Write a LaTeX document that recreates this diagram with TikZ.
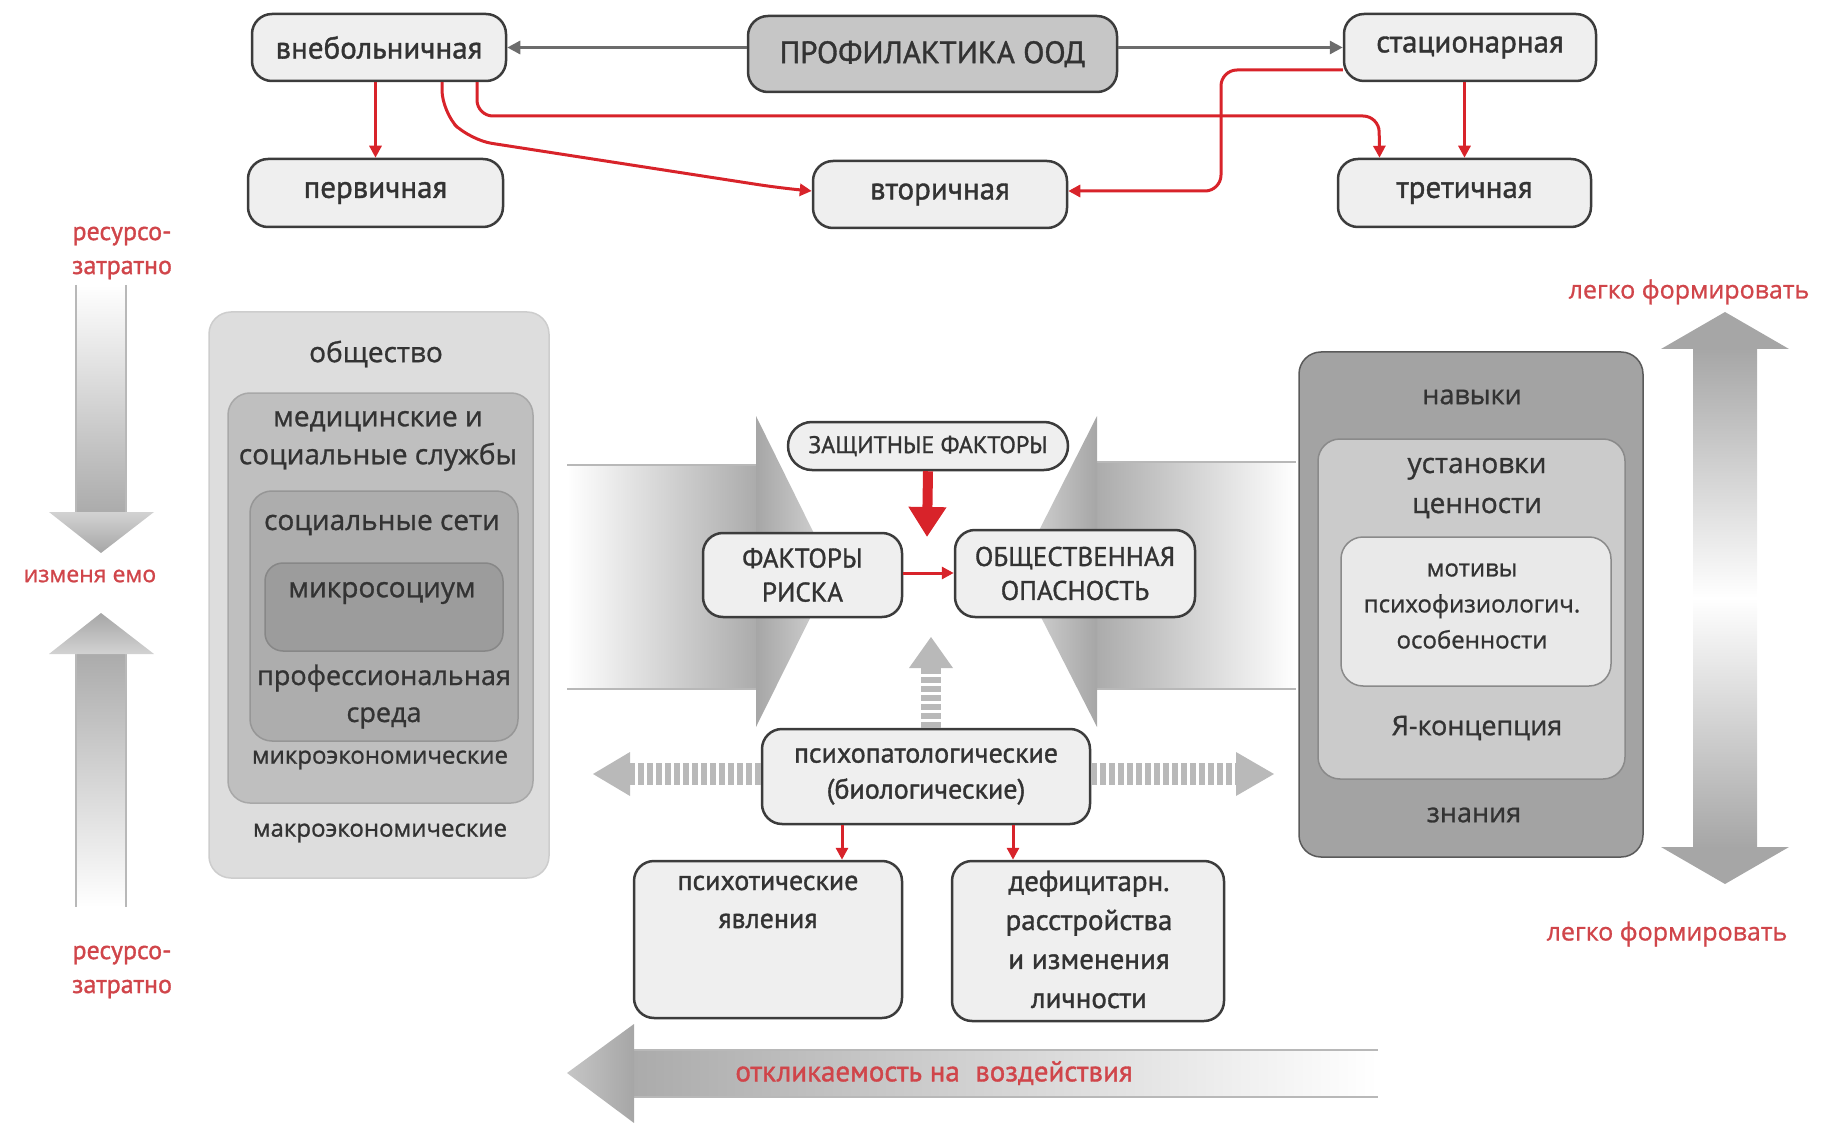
\documentclass[tikz,border=0pt]{standalone}
\usepackage{fontspec}
\setmainfont[FakeBold=1.2]{PT Sans}
\newfontfamily\wide[FakeBold=1]{Open Sans}
\newfontfamily\plainpt{PT Sans}
\usetikzlibrary{arrows.meta,calc}
\definecolor{nfill}{HTML}{EFEFEF}
\definecolor{nborder}{HTML}{3C3C3C}
\definecolor{pfill}{HTML}{C6C6C6}
\definecolor{redl}{HTML}{D8232A}
\definecolor{redt}{HTML}{D0454A}
\definecolor{tdark}{HTML}{333333}
\definecolor{gA}{HTML}{DDDDDD}
\definecolor{gAb}{HTML}{CDCDCD}
\definecolor{gB}{HTML}{BFBFBF}
\definecolor{gBb}{HTML}{A8A8A8}
\definecolor{gC}{HTML}{ADADAD}
\definecolor{gCb}{HTML}{969696}
\definecolor{gD}{HTML}{9C9C9C}
\definecolor{gDb}{HTML}{878787}
\definecolor{rO}{HTML}{A3A3A3}
\definecolor{rOb}{HTML}{5A5A5A}
\definecolor{rI}{HTML}{CBCBCB}
\definecolor{rIb}{HTML}{8A8A8A}
\definecolor{rII}{HTML}{E9E9E9}
\definecolor{shg}{HTML}{ABABAB}
\definecolor{hdg}{HTML}{A6A6A6}
\definecolor{edg}{HTML}{B8B8B8}
\begin{document}
\begin{tikzpicture}[x=1pt,y=-1pt,
  tn/.style={draw=nborder, line width=2.5pt, fill=nfill, rounded corners=20pt,
    inner sep=0pt, text=tdark, font=\fontsize{31}{36}\selectfont},
  cn/.style={draw=nborder, line width=2.5pt, fill=nfill, rounded corners=20pt,
    inner sep=0pt, text=tdark, align=center},
  gbox/.style={line width=1.5pt, rounded corners=22pt, inner sep=0pt},
  wt/.style={font=\wide\fontsize{28}{38}\selectfont, text=tdark, align=center, inner sep=0pt},
  rt/.style={text=redt, align=center, inner sep=0pt},
  redarr/.style={draw=redl, line width=3pt, -{Triangle[length=12pt,width=12pt]}},
  grayarr/.style={draw=gray!85!black, line width=3pt, -{Triangle[length=13pt,width=13pt]}},
  stripe/.style={draw=gray!55, dash pattern=on 6pt off 3pt}
]
\useasboundingbox (0,0) rectangle (1824,1123);

% ---------- big background arrows ----------
% left arrow (points right)
\shade[left color=white, right color=shg] (567,465) rectangle (757,689);
\draw[edg, line width=1.5pt] (567,465) -- (757,465) (567,689) -- (757,689);
\shade[left color=hdg, right color=gray!30] (756,416) -- (833,572) -- (756,727) -- cycle;
% right arrow (points left)
\shade[right color=white, left color=shg] (1096,462) rectangle (1296,689);
\draw[edg, line width=1.5pt] (1096,462) -- (1296,462) (1096,689) -- (1296,689);
\shade[right color=hdg, left color=gray!30] (1097,416) -- (1018,572) -- (1097,727) -- cycle;

% left vertical arrows
\shade[top color=white, bottom color=shg] (76,285) rectangle (126,513);
\draw[edg, line width=1.5pt] (76,285) -- (76,513) (126,285) -- (126,513);
\shade[top color=gray!35, bottom color=hdg] (49,512) -- (154,512) -- (101,553) -- cycle;
\shade[bottom color=white, top color=shg] (76,653) rectangle (126,907);
\draw[edg, line width=1.5pt] (76,653) -- (76,907) (126,653) -- (126,907);
\shade[bottom color=gray!35, top color=hdg] (49,654) -- (154,654) -- (101,613) -- cycle;

% right double arrow
\shade[top color=hdg, bottom color=hdg, middle color=white] (1693,348) rectangle (1757,848);
\fill[hdg] (1661,349) -- (1725,312) -- (1789,349) -- cycle;
\fill[hdg] (1661,847) -- (1725,884) -- (1789,847) -- cycle;

% bottom arrow (points left)
\shade[left color=shg, right color=white] (633,1050) rectangle (1378,1097);
\draw[edg, line width=1.5pt] (633,1050) -- (1378,1050) (633,1097) -- (1378,1097);
\shade[left color=gray!45, right color=hdg] (634,1024) -- (567,1073) -- (634,1123) -- cycle;

% ---------- top row ----------
\node[tn, minimum width=254, minimum height=67] (vneb) at (379,47.5) {внебольничная};
\node[tn, fill=pfill, minimum width=369, minimum height=76] (prof) at (932.5,54) {ПРОФИЛАКТИКА ООД};
\node[tn, minimum width=252, minimum height=67] (stac) at (1470,47.5) {стационарная};
\node[tn, minimum width=255, minimum height=68] (perv) at (375.5,193) {первичная};
\node[tn, minimum width=254, minimum height=67] (vtor) at (940,194.5) {вторичная};
\node[tn, minimum width=253, minimum height=68] (tret) at (1464.5,193) {третичная};

\draw[grayarr] (prof.west |- vneb) -- (vneb.east);
\draw[grayarr] (prof.east |- stac) -- (stac.west);
\draw[redarr] (vneb.south -| perv.north) -- (perv.north);
\draw[redarr, rounded corners=22pt] ([xshift=63pt]vneb.south) -- (442,112) -- (470,140) -- (780,188) -- (vtor.west |- 0,191);
\draw[redarr, rounded corners=16pt] ([xshift=98pt]vneb.south) |- (1379,116) -- ([xshift=-85pt]tret.north);
\draw[redarr, rounded corners=16pt] (stac.west |- 0,70) -| (1221,191) -- (vtor.east |- 0,191);
\draw[redarr] (stac.south -| tret.north) -- (tret.north);

% ---------- left nested boxes ----------
\node[gbox, fill=gA, draw=gAb, minimum width=340, minimum height=566] (soc) at (379,595) {};
\node[gbox, fill=gB, draw=gBb, minimum width=305, minimum height=410] (med) at (380.5,598) {};
\node[gbox, fill=gC, draw=gCb, minimum width=268, minimum height=250] (net) at (384,616) {};
\node[gbox, fill=gD, draw=gDb, minimum width=238, minimum height=88, rounded corners=18pt] (mic) at (384,607) {};
\node[wt] (socT) at (376,354) {общество};
\node[wt] (medT) at (378,441) {медицинские и\\социальные службы};
\node[wt] (netT) at (382,525) {социальные сети};
\node[wt] (micT) at (382,593) {микросоциум};
\node[wt, font=\wide\fontsize{27}{37}\selectfont] (profT) at (384,696.5) {профессиональная\\среда};
\node[wt, font=\wide\fontsize{24}{30}\selectfont] (mieT) at (380,760) {микроэкономические};
\node[wt, font=\wide\fontsize{24}{30}\selectfont] (maeT) at (380,833) {макроэкономические};

% ---------- right nested boxes ----------
\node[gbox, fill=rO, draw=rOb, minimum width=344, minimum height=505] (ro) at (1471,604.5) {};
\node[gbox, fill=rI, draw=rIb, minimum width=307, minimum height=340] (ri) at (1471.5,609) {};
\node[gbox, fill=rII, draw=rIb, minimum width=270, minimum height=149] (rii) at (1476,611.5) {};
\node[wt, font=\wide\fontsize{27}{38}\selectfont] (navT) at (1472,397) {навыки};
\node[wt, font=\wide\fontsize{28}{40}\selectfont] (ustT) at (1477,488) {установки\\ценности};
\node[wt, font=\wide\fontsize{24}{36}\selectfont] (motT) at (1472,606) {мотивы\\психофизиологич.\\особенности};
\node[wt, font=\wide\fontsize{27}{38}\selectfont] (yaT) at (1477,728) {Я-концепция};
\node[wt, font=\wide\fontsize{27}{38}\selectfont] (znT) at (1474,815) {знания};

% ---------- center ----------
\node[cn, minimum width=280, minimum height=48, rounded corners=24pt, font=\fontsize{24}{28}\selectfont] (zasch) at (928,446) {ЗАЩИТНЫЕ ФАКТОРЫ};
\node[cn, minimum width=199, minimum height=84, font=\fontsize{27}{34}\selectfont] (fakt) at (802.5,575) {ФАКТОРЫ\\РИСКА};
\node[cn, minimum width=240, minimum height=87, font=\fontsize{27}{34}\selectfont] (obsh) at (1075,573.5) {ОБЩЕСТВЕННАЯ\\ОПАСНОСТЬ};
\node[cn, minimum width=328, minimum height=95, font=\fontsize{28}{36}\selectfont] (psych) at (926,776.5) {психопатологические\\(биологические)};
\node[cn, minimum width=268, minimum height=157] (psyt) at (768,939.5) {};
\node[cn, minimum width=272, minimum height=160] (defi) at (1088,941) {};
\node[text=tdark, align=center, inner sep=0pt, font=\fontsize{28}{38}\selectfont] (psytT) at (768,902) {психотические\\явления};
\node[text=tdark, align=center, inner sep=0pt, font=\fontsize{29}{39}\selectfont] (defiT) at (1089,939.5) {дефицитарн.\\расстройства\\и изменения\\личности};

\draw[draw=redl, line width=10pt, -{Triangle[length=30pt,width=36pt]}] (zasch.south) -- (927,537);
\draw[redarr] (fakt.east |- 0,573) -- (obsh.west |- 0,573);
\draw[redarr] (psych.south -| 842,0) -- (psyt.north -| 842,0);
\draw[redarr] (psych.south -| 1013,0) -- (defi.north -| 1013,0);

% striped arrows
\draw[stripe, line width=20pt] (psych.north -| 931,0) -- (931,665);
\fill[gray!55] (909,668) -- (953,668) -- (931,637) -- cycle;
\draw[stripe, line width=22pt] (psych.west |- 0,774) -- (630,774);
\fill[gray!55] (630,752) -- (630,796) -- (593,774) -- cycle;
\draw[stripe, line width=22pt] (psych.east |- 0,774) -- (1238,774);
\fill[gray!55] (1236,752) -- (1236,796) -- (1274,774) -- cycle;

% ---------- red labels ----------
\node[rt, font=\fontsize{26}{34}\selectfont] (res1) at (122,253) {ресурсо-\\затратно};
\node[rt, font=\wide\fontsize{23}{30}\selectfont] (izm) at (90,576) {изменя емо};
\node[rt, font=\fontsize{26}{34}\selectfont] (res2) at (122,972) {ресурсо-\\затратно};
\node[rt, font=\wide\fontsize{25}{30}\selectfont] (leg1) at (1689,292) {легко формировать};
\node[rt, font=\wide\fontsize{25}{30}\selectfont] (leg2) at (1667,934) {легко формировать};
\node[rt, font=\fontsize{29}{34}\selectfont] (otk) at (934,1073) {откликаемость на~~воздействия};
\end{tikzpicture}
\end{document}
